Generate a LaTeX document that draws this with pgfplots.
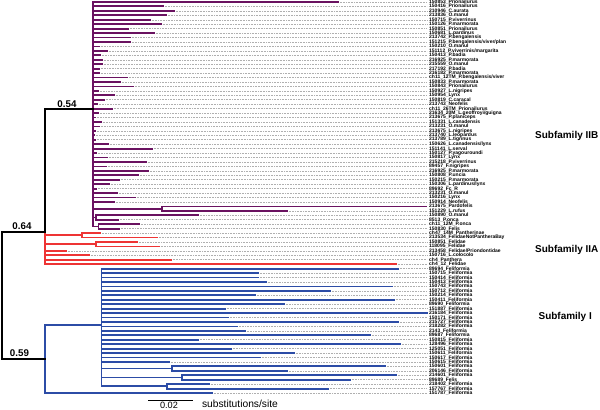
\documentclass[border=0pt]{standalone}
\usepackage{fontspec}
\setmainfont{Liberation Sans}
\usepackage{pgfplots}
\usepackage{pgfplotstable}
\pgfplotsset{compat=1.18}
\definecolor{purp}{RGB}{106,18,96}
\definecolor{redc}{RGB}{238,52,52}
\definecolor{bluc}{RGB}{44,76,166}
\definecolor{dotc}{RGB}{175,175,175}
\newcommand\labfont{\fontsize{5.0}{5.2}\selectfont\bfseries}

% tips: x0 = parent node x, x1 = tip end x, y = row position (pixels)
\pgfplotstableread{
x0 x1 y label
92.7 338 2.0 150853\_Prionailurus
92.7 163 6.4 150416\_Prionailurus
92.7 174 10.9 210946\_C.aurata
92.7 166 15.3 213836\_O.manul
92.7 150 19.8 150715\_P.viverrinus
92.7 161 24.2 150126\_P.marmorata
92.7 128 28.7 150851\_Prionailurus
92.7 154 33.1 150681\_L.pardinus
92.7 130 37.5 213742\_P.bengalensis
92.7 130 42.0 151215\_P.bengalensis/viver/plan
92.7 99 46.4 150210\_O.manul
92.7 107 50.9 151112\_P.viverrinis/margarita
92.7 100 55.3 150413\_P.badia
92.7 102 59.8 216925\_P.marmorata
92.7 102 64.2 215559\_O.manul
92.7 99 68.6 217192\_P.badia
92.7 99 73.1 216182\_P.marmorata
92.7 127 77.5 ch11\_12TM\_P.bengalensis/viver
92.7 120 82.0 150833\_P.marmorata
92.7 133 86.4 150843\_Prionailurus
92.7 98 90.9 150927\_L.nigripes
92.7 114 95.3 150954\_Lynx
92.7 104 99.7 150819\_C.caracal
92.7 97 104.2 213743\_Neofelis
92.7 112 108.6 ch11\_26TM\_Prionailurus
92.7 98 113.1 21634\_20M\_L.geoffroyi/guigna
92.7 95 117.5 213675\_P.planiceps
92.7 101 122.0 151331\_L.canadensis
92.7 99 126.4 213231\_O.manul
92.7 95 130.8 213675\_L.nigripes
92.7 94 135.3 213740\_L.leopardus
92.7 95 139.7 213789\_L.tigrinus
92.7 108 144.2 150626\_L.canadensis/lynx
92.7 152 148.6 151141\_L.serval
92.7 96 153.1 150127\_P.yagouroundi
92.7 107 157.5 150817\_Lynx
92.7 146 161.9 215218\_P.viverrinus
92.7 106 166.4 89457\_F.nigripes
92.7 148 170.8 216925\_P.marmorata
92.7 138 175.3 150808\_P.uncia
92.7 119 179.7 150215\_P.marmorata
92.7 109 184.2 150306\_L.pardinus/lynx
92.7 96 188.6 89692\_Fc\_R
92.7 117 193.0 213231\_O.manul
92.7 135 197.5 150216\_Lynx
92.7 114 201.9 150914\_Neofelis
162 426 206.4 213675\_Pardofelis
162 287 210.8 151229\_L.rufus
96 198 215.3 150890\_O.manul
96 118 219.7 8513\_P.onca
98.5 139 224.2 ch11\_12M\_P.onca
98.5 119 228.6 150830\_Felis
}\ptips

\pgfplotstableread{
x0 x1 y label
82 100 233.0 ch47\_14M\_Pantherinae
82 157 237.5 213534\_FelidaeNotPantheraBay
96 137 241.9 150851\_Felidae
96 159 246.4 118095\_Felidae
45 66 250.8 213458\_Felidae/Priondontidae
45 89 255.3 150716\_L.colocolo
45 171 259.7 ch4\_Panthera
45 396 264.1 ch4\_12\_Felidae
}\rtips

\pgfplotstableread{
x0 x1 y label
101.5 398 268.6 89694\_Feliformia
101.5 258 273.0 150715\_Feliformia
101.5 258 277.5 150414\_Feliformia
101.5 266 281.9 150413\_Feliformia
101.5 392 286.4 150743\_Feliformia
101.5 330 290.8 150712\_Feliformia
101.5 255 295.2 150214\_Feliformia
101.5 394 299.7 150411\_Feliformia
101.5 284 304.1 89690\_Feliformia
101.5 225 308.6 151887\_Feliformia
101.5 427 313.0 216184\_Feliformia
101.5 228 317.5 150171\_Feliformia
101.5 398 321.9 215727\_Feliformia
101.5 237 326.4 218282\_Feliformia
101.5 245 330.8 2143\_Feliformia
101.5 370 335.2 89687\_Feliformia
101.5 198 339.7 150815\_Feliformia
101.5 400 344.1 128496\_Feliformia
101.5 231 348.6 125051\_Feliformia
101.5 294 353.0 150611\_Feliformia
101.5 260 357.5 150617\_Feliformia
101.5 169 361.9 150615\_Feliformia
172 385 366.3 150601\_Feliformia
172 287 370.8 206146\_Feliformia
182 396 375.2 214601\_Feliformia
182 350 379.7 89689\_Felis
167 209 384.1 218402\_Feliformia
167 328 388.6 157767\_Feliformia
45 212 393.0 151787\_Feliformia
}\btips

% internal segments: start (x,y) and extent (u,v)
\pgfplotstableread{
x y u v
92.7 2.0 0 224.4
92.7 208.6 69.3 0
162 206.4 0 4.4
92.7 217.5 3.3 0
96 215.3 0 4.4
92.7 226.4 5.8 0
98.5 224.2 0 4.4
}\pint

\pgfplotstableread{
x y u v
45 232 0 32.1
45 235.25 37 0
82 233.0 0 4.5
45 244.15 51 0
96 241.9 0 4.5
}\rint

\pgfplotstableread{
x y u v
45 325 0 68
45 325 56.5 0
101.5 268.6 0 117.8
101.5 368.55 70.5 0
172 366.3 0 4.5
101.5 377.45 80.5 0
182 375.2 0 4.5
101.5 386.35 65.5 0
167 384.1 0 4.5
}\bint

\pgfplotstableread{
x y u v
45 108.6 47.7 0
45 108.6 0 123.4
2 232 43 0
2 232 0 127
2 359 43 0
}\kint

\pgfplotsset{
  dotline/.style={dotc, line width=0.5bp, dash pattern=on 0.8bp off 0.8bp,
    quiver={u=427-\thisrow{x1}, v=0}},
  tipline/.style={line width=1.8bp, line cap=rect, quiver={u=\thisrow{x1}-\thisrow{x0}, v=0}},
  intline/.style={line width=1.8bp, line cap=rect, quiver={u=\thisrow{u}, v=\thisrow{v}}},
  tiplab/.style={draw=none, mark=none, nodes near coords, point meta=explicit symbolic,
    every node near coord/.append style={anchor=west, inner sep=0pt, font=\labfont, text=black}},
}

\begin{document}
\begin{tikzpicture}
\begin{axis}[width=600bp, height=409bp, scale only axis, hide axis,
  xmin=0, xmax=600, ymin=0, ymax=409, y dir=reverse, clip=false]
% dotted leader lines
\addplot[dotline] table[x=x1, y=y] {\ptips};
\addplot[dotline] table[x=x1, y=y] {\rtips};
\addplot[dotline] table[x=x1, y=y] {\btips};
% branches
\addplot[purp, tipline] table[x=x0, y=y] {\ptips};
\addplot[purp, intline] table[x=x, y=y] {\pint};
\addplot[redc, tipline] table[x=x0, y=y] {\rtips};
\addplot[redc, intline] table[x=x, y=y] {\rint};
\addplot[bluc, tipline] table[x=x0, y=y] {\btips};
\addplot[bluc, intline] table[x=x, y=y] {\bint};
\addplot[black, intline, line width=2bp] table[x=x, y=y] {\kint};
% tip labels
\addplot[tiplab] table[x expr=429, y=y, meta=label] {\ptips};
\addplot[tiplab] table[x expr=429, y=y, meta=label] {\rtips};
\addplot[tiplab] table[x expr=429, y=y, meta=label] {\btips};
% scale bar
\addplot[black, line width=1.3bp] coordinates {(148,400.5) (193,400.5)};
\node[font=\fontsize{9.2}{10}\selectfont] at (axis cs:169,405.2) {0.02};
\node[font=\fontsize{10.3}{11}\selectfont] at (axis cs:240,403.8) {substitutions/site};
% support values
\node[font=\fontsize{9.8}{10}\selectfont\bfseries] at (axis cs:67,104) {0.54};
\node[font=\fontsize{9.8}{10}\selectfont\bfseries] at (axis cs:22,226.5) {0.64};
\node[font=\fontsize{9.8}{10}\selectfont\bfseries] at (axis cs:19.5,353) {0.59};
% clade labels
\node[anchor=east, inner sep=0pt, font=\fontsize{10}{11}\selectfont\bfseries] at (axis cs:598.5,135.7) {Subfamily IIB};
\node[anchor=east, inner sep=0pt, font=\fontsize{10}{11}\selectfont\bfseries] at (axis cs:598.5,250) {Subfamily IIA};
\node[anchor=east, inner sep=0pt, font=\fontsize{10}{11}\selectfont\bfseries] at (axis cs:592,316.7) {Subfamily I};
\coordinate (bbA) at (axis cs:0,0);
\coordinate (bbB) at (axis cs:600,409);
\end{axis}
\pgfresetboundingbox
\path[use as bounding box] (bbA) rectangle (bbB);
\end{tikzpicture}
\end{document}
